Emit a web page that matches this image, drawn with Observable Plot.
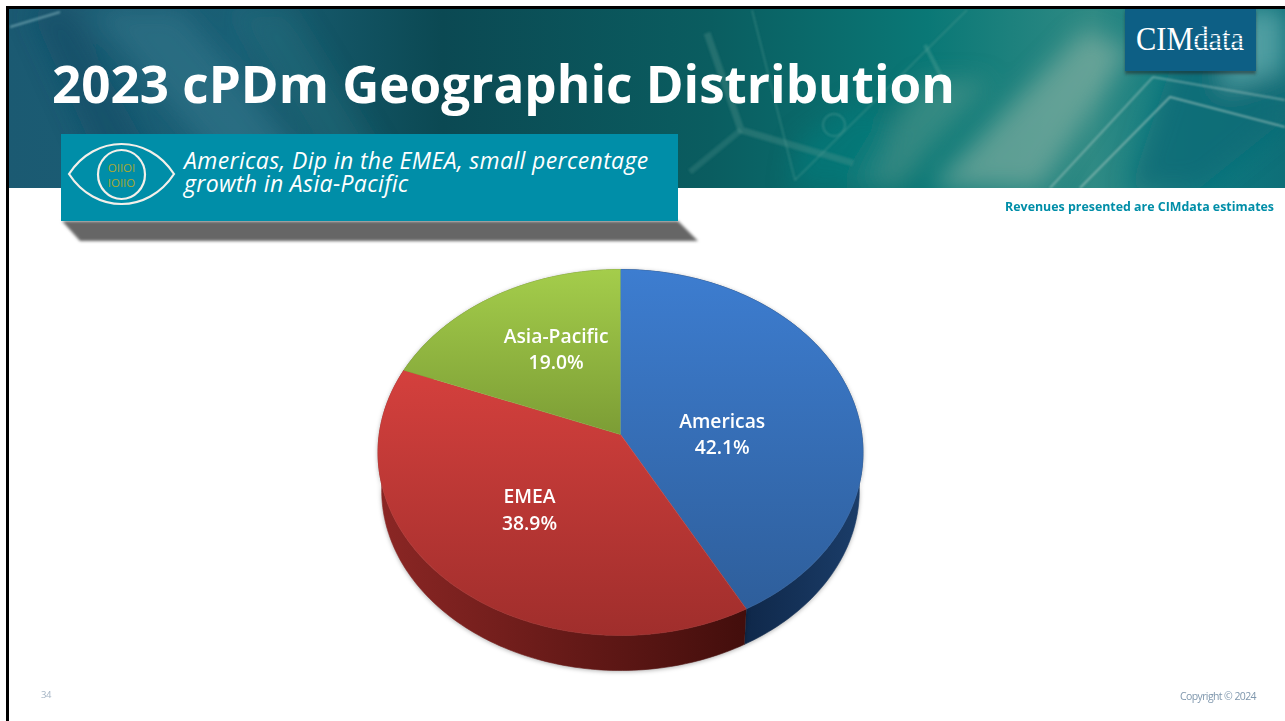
<!DOCTYPE html>
<html><head><meta charset="utf-8">
<script src="https://cdn.jsdelivr.net/npm/d3@7"></script>
<script src="https://cdn.jsdelivr.net/npm/@observablehq/plot@0.6"></script>
<style>
html,body{margin:0;padding:0;background:#fff;}
#stage{position:relative;width:1285px;height:721px;overflow:hidden;background:#fff;font-family:"Open Sans",sans-serif;}
#stage>*{position:absolute;}
#bg{left:0;top:0;}
#chart{left:0;top:0;}
#chart svg{background:transparent;display:block;}
#title{left:52px;top:48px;color:#fff;font-weight:700;font-size:51.2px;line-height:70px;white-space:nowrap;}
#note{right:11px;top:198px;color:#008ea8;font-weight:700;font-size:12.4px;line-height:18px;white-space:nowrap;}
#page{left:41px;top:689px;color:#a3b3c3;font-size:9.5px;line-height:12px;letter-spacing:-.4px;}
#copy{right:29px;top:689px;color:#7f97ad;font-size:10.5px;line-height:14px;letter-spacing:-.6px;white-space:nowrap;}
#say{left:184px;top:149px;color:#fff;font-style:italic;font-size:23px;line-height:23px;letter-spacing:.36px;white-space:nowrap;}
</style></head><body>
<div id="stage">
<svg id="bg" width="1285" height="721" xmlns="http://www.w3.org/2000/svg">
 <defs>
  <linearGradient id="band" x1="0" x2="1" y1="0" y2="0">
   <stop offset="0" stop-color="#1b5a72"/><stop offset=".18" stop-color="#1a5f75"/><stop offset=".34" stop-color="#0b4953"/>
   <stop offset=".55" stop-color="#0a5d60"/><stop offset=".72" stop-color="#0a7876"/><stop offset=".85" stop-color="#2f8a84"/>
   <stop offset=".93" stop-color="#0d7a80"/><stop offset="1" stop-color="#0e6f78"/>
  </linearGradient>
  <filter id="b8" x="-40%" y="-40%" width="180%" height="180%"><feGaussianBlur stdDeviation="12"/></filter>
  <filter id="b2" x="-30%" y="-30%" width="160%" height="160%"><feGaussianBlur stdDeviation="1"/></filter>
  <filter id="b1" x="-5%" y="-30%" width="110%" height="160%"><feGaussianBlur stdDeviation="1.8"/></filter>
  <pattern id="stripes" width="3" height="3" patternUnits="userSpaceOnUse"><rect width="3" height="3" fill="#fff"/><rect y="2" width="3" height="1" fill="#6f9db4"/></pattern>
  <clipPath id="bandClip"><rect x="8" y="9" width="1277" height="179"/></clipPath>
 </defs>
 <rect x="8" y="9" width="1277" height="179" fill="url(#band)"/>
 <g clip-path="url(#bandClip)">
  <g filter="url(#b8)">
   <polygon points="90,9 180,9 330,188 240,188" fill="#3c7f92" opacity=".45"/>
   <polygon points="30,9 70,9 170,188 110,188" fill="#0f4c66" opacity=".6"/>
   <polygon points="230,9 290,9 400,188 340,188" fill="#2d7585" opacity=".35"/>
   <polygon points="1085,30 1130,50 1040,188 930,188" fill="#8db5a5" opacity=".58"/>
   <polygon points="920,80 990,80 900,188 850,188" fill="#5b9c90" opacity=".5"/>
   <polygon points="1190,9 1285,9 1285,120 1200,188 1130,188" fill="#0a6b76" opacity=".8"/>
   <polygon points="1240,9 1285,9 1285,70 1220,90" fill="#6db4b4" opacity=".7"/>
   <polygon points="800,140 860,100 900,130 880,188 790,188" fill="#0a7f7f" opacity=".5"/>
  </g>
  <g filter="url(#b2)" fill="none">
   <polyline points="10,27 60,12" stroke="#7fb0bb" stroke-width="2" opacity=".7"/>
   <polyline points="707,33 741,130 853,163" stroke="#5f9c92" stroke-width="7" opacity=".3"/>
   <polyline points="690,172 741,130" stroke="#5f9c92" stroke-width="6" opacity=".25"/>
   <polyline points="1080,188 1170,97 1285,127" stroke="#b4cfc6" stroke-width="1.6" opacity=".7"/>
   <polyline points="1050,188 1153,77 1285,100" stroke="#b4cfc6" stroke-width="1.6" opacity=".6"/>
   <polyline points="752,10 795,180 967,10" stroke="#5aa096" stroke-width="1.2" opacity=".5"/>
   <polyline points="925,45 942,78" stroke="#4f9f97" stroke-width="4" opacity=".4"/>
   <circle cx="834" cy="125" r="11" stroke="#4d9a92" stroke-width="1.4" opacity=".6"/>
  </g>
 </g>
 <rect x="6" y="6" width="1279" height="3" fill="#000"/>
 <rect x="6" y="6" width="3" height="715" fill="#000"/>
 <rect x="1125" y="9" width="131" height="63" fill="#222" opacity=".5" filter="url(#b1)" transform="translate(0,2)"/>
 <rect x="1125" y="9" width="131" height="62" fill="#0d5f85"/>
 <text x="1136" y="50" font-family="Liberation Serif" font-size="33" fill="#fff" textLength="108" lengthAdjust="spacingAndGlyphs">CIM<tspan fill="url(#stripes)">data</tspan></text>
 <polygon points="62,221 80,241 698,241 678,221" fill="#666" filter="url(#b1)"/>
 <rect x="61" y="134" width="617" height="87" fill="#008ea8"/>
 <path d="M69,174 C95,134 148,134 174,174 C148,214 95,214 69,174 Z" fill="none" stroke="#f4f0ea" stroke-width="2.2"/>
 <ellipse cx="121.5" cy="174.5" rx="23.5" ry="24.5" fill="none" stroke="#f4f0ea" stroke-width="2.2"/>
 <text x="121.5" y="172" text-anchor="middle" font-size="11.5" fill="#a9a832">OIIOI</text>
 <text x="121.5" y="187" text-anchor="middle" font-size="11.5" fill="#a9a832">IOIIO</text>
</svg>
<div id="chart"></div>
<div id="title">2023 cPDm Geographic Distribution</div>
<div id="say">Americas, Dip in the EMEA, small percentage<br>growth in Asia-Pacific</div>
<div id="note">Revenues presented are CIMdata estimates</div>
<div id="page">34</div>
<div id="copy">Copyright © 2024</div>
</div>
<script>
const regions = ["Americas", "EMEA", "Asia-Pacific"];
const shares = [42.1, 38.9, 19.0];

// perspective of the tilted disc, in disc units
const tilt = 0.0984, depth = 0.21, shrink = 0.985;
const project = (percent, r = 1, lower = false) => {
  const a = percent / 100 * 2 * Math.PI, u = r * Math.sin(a), v = r * Math.cos(a), w = 1 + tilt * v;
  const s = lower ? shrink : 1;
  return {x: s * u / w, y: s * v / w - (lower ? depth : 0)};
};
const ends = d3.cumsum(shares);
const starts = ends.map((e, i) => e - shares[i]);
const arc = (from, to, lower) => d3.range(0, 121).map(k => project(from + (to - from) * k / 120, 1, lower));
const faces = regions.map((_, i) => [{x: 0, y: 0}, ...arc(starts[i], ends[i], false)]);
const walls = regions.map((_, i) => [...arc(starts[i], ends[i], false), ...arc(ends[i], starts[i], true)]);
const labels = regions.map((name, i) => ({...project(starts[i] + shares[i] / 2, 0.47), text: `${name}\n${shares[i].toFixed(1)}%`}));

const defs = () => {
  const d = d3.create("svg:defs");
  const grad = (id, horizontal, from, to, c0, c1) => {
    const g = d.append("linearGradient").attr("id", id).attr("gradientUnits", "userSpaceOnUse")
      .attr("x1", horizontal ? from : 0).attr("x2", horizontal ? to : 0)
      .attr("y1", horizontal ? 0 : from).attr("y2", horizontal ? 0 : to);
    g.append("stop").attr("offset", 0).attr("stop-color", c0);
    g.append("stop").attr("offset", 1).attr("stop-color", c1);
  };
  grad("f0", false, 269, 635, "#3d7dd0", "#2d5c97");
  grad("f1", false, 370, 635, "#d4403d", "#a02e2c");
  grad("f2", false, 269, 434, "#a4cd4b", "#7c9d35");
  grad("w0", true, 745, 860, "#0f284a", "#1b3d69");
  grad("w1", true, 385, 745, "#8a2624", "#430e0c");
  grad("w2", true, 385, 745, "#5c7a20", "#5c7a20");
  return d.node();
};

const chart = Plot.plot({
  width: 1285, height: 721,
  margin: 0,
  style: {background: "transparent", overflow: "visible"},
  x: {axis: null, domain: [-1, 1], range: [378.7, 861.3]},
  y: {axis: null, domain: [-1, 1], range: [615.2, 252.8]},
  marks: [
    defs,
    ...walls.map((w, i) => Plot.line(w, {x: "x", y: "y", fill: `url(#w${i})`, stroke: `url(#w${i})`, strokeWidth: 0.6})),
    ...faces.map((f, i) => Plot.line(f, {x: "x", y: "y", fill: `url(#f${i})`, stroke: `url(#f${i})`, strokeWidth: 0.6})),
    ...labels.map((l, i) => Plot.text([l], {
      x: "x", y: "y", text: "text",
      dx: [-7, -13, -3][i], dy: [18.5, 7.5, -19][i],
      fill: "#fff", fontSize: 19.3, fontWeight: 600, lineHeight: 1.37,
      fontFamily: "Open Sans"
    }))
  ]
});
d3.select(chart).selectAll('g[aria-label="line"]').filter((_, i) => i < regions.length)
  .style("filter", "drop-shadow(0 1px 2px rgba(0,0,0,.3))");
document.getElementById("chart").append(chart);
</script>
</body></html>
